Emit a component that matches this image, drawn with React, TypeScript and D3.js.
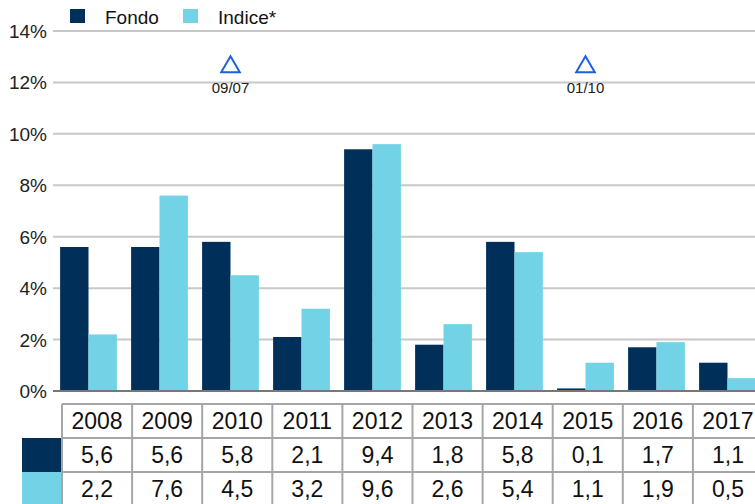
import React from "react";
import * as d3 from "d3";

const years = ["2008", "2009", "2010", "2011", "2012", "2013", "2014", "2015", "2016", "2017"];
const fondo = [5.6, 5.6, 5.8, 2.1, 9.4, 1.8, 5.8, 0.1, 1.7, 1.1];
const indice = [2.2, 7.6, 4.5, 3.2, 9.6, 2.6, 5.4, 1.1, 1.9, 0.5];
const seriesNames = ["Fondo", "Indice*"];
const yTicks = [0, 2, 4, 6, 8, 10, 12, 14];
const markers = [
  { year: "2010", value: 12.6, label: "09/07" },
  { year: "2015", value: 12.6, label: "01/10" },
];

const W = 755;
const H = 504;
const DARK = "#00305a";
const LIGHT = "#73d3e6";
const GRID = "#c8c8c8";
const BORDER = "#a6a6a6";
const FONT = "'Liberation Sans', Arial, sans-serif";

const fmt = (v: number) => v.toFixed(1).replace(".", ",");

export default function App() {
  const plotLeft = 53;
  const x = d3.scaleBand().domain(years).range([plotLeft, plotLeft + 710]).paddingInner(0.2).paddingOuter(0.1);
  const y = d3.scaleLinear().domain([0, 14]).range([391, 31]);
  const barW = x.bandwidth() / 2;

  // table columns
  const tx = d3.scaleBand().domain(years).range([62, 62 + 701]);
  const rowTop = [404, 438, 472];
  const rowH = 34;
  const series = [fondo, indice];
  const colors = [DARK, LIGHT];

  const tri = d3.symbol().type(d3.symbolTriangle).size(150)();

  return (
    <svg width={W} height={H} style={{ position: "absolute", left: 0, top: 0, background: "#fff" }} fontFamily={FONT}>
      {/* legend */}
      {seriesNames.map((n, i) => {
        const lx = i === 0 ? 70 : 183;
        return (
          <g key={n}>
            <rect x={lx} y={9} width={15} height={14} fill={colors[i]} />
            <text x={lx + 35} y={24} fontSize={19} fill="#111">{n}</text>
          </g>
        );
      })}

      {/* gridlines + y ticks */}
      {yTicks.map((t) => (
        <g key={t}>
          <line
            x1={plotLeft}
            x2={W}
            y1={y(t)}
            y2={y(t)}
            stroke={t === 0 ? "#777" : GRID}
            strokeWidth={2}
          />
          <text x={47} y={y(t) + 7} textAnchor="end" fontSize={19} fill="#222">{t}%</text>
        </g>
      ))}

      {/* bars */}
      {years.map((yr, i) => (
        <g key={yr}>
          {series.map((s, j) => (
            <rect
              key={j}
              x={(x(yr) as number) + j * barW}
              y={y(s[i])}
              width={barW}
              height={y(0) - y(s[i]) - 1}
              fill={colors[j]}
            />
          ))}
        </g>
      ))}

      {/* markers */}
      {markers.map((m) => {
        const cx = (x(m.year) as number) + x.bandwidth() / 2;
        const cy = y(m.value);
        return (
          <g key={m.label}>
            <path d={tri as string} transform={`translate(${cx},${cy})`} fill="none" stroke="#1f5fe0" strokeWidth={2} />
            <text x={cx} y={cy + 26} textAnchor="middle" fontSize={15} fill="#222">{m.label}</text>
          </g>
        );
      })}

      {/* table */}
      {series.map((s, j) => (
        <rect key={j} x={22} y={rowTop[j + 1]} width={40} height={rowH} fill={colors[j]} />
      ))}
      {years.map((yr, i) => {
        const cx = (tx(yr) as number) + tx.bandwidth() / 2;
        return (
          <g key={yr}>
            <text x={cx} y={rowTop[0] + 25} textAnchor="middle" fontSize={23} fill="#111">{yr}</text>
            {series.map((s, j) => (
              <text key={j} x={cx} y={rowTop[j + 1] + 25} textAnchor="middle" fontSize={23} fill="#111">{fmt(s[i])}</text>
            ))}
          </g>
        );
      })}
      {rowTop.map((r) => (
        <line key={r} x1={62} x2={W} y1={r} y2={r} stroke={BORDER} strokeWidth={2} />
      ))}
      {years.map((yr) => (
        <line key={yr} x1={tx(yr) as number} x2={tx(yr) as number} y1={404} y2={H} stroke={BORDER} strokeWidth={2} />
      ))}
    </svg>
  );
}
